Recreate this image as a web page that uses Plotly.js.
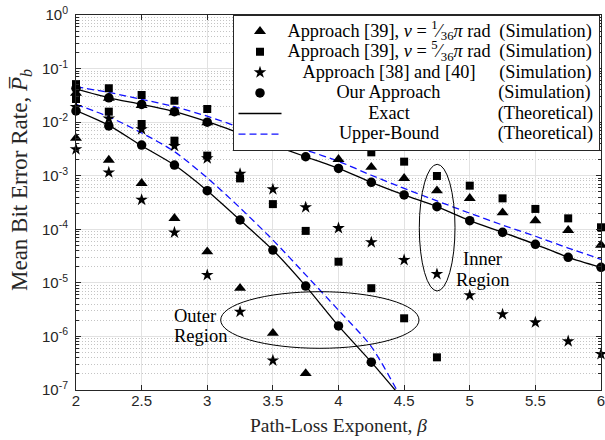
<!DOCTYPE html>
<html>
<head>
<meta charset="utf-8">
<script src="https://cdn.plot.ly/plotly-3.0.1.min.js"></script>
<style>
  html, body { margin: 0; padding: 0; background: #ffffff; }
  #chart { width: 605px; height: 440px; }
</style>
</head>
<body>
<div id="chart"></div>
<script>
// Path-loss exponent grid
const beta = [2, 2.25, 2.5, 2.75, 3, 3.25, 3.5, 3.75, 4, 4.25, 4.5, 4.75, 5, 5.25, 5.5, 5.75, 6];

// Approach [39], v = pi/36 rad (simulation)
const innerTri = [0.0347, 0.0282, 0.0206, 0.0150, 0.00977, 0.00741, 0.00525, 0.00347, 0.00202,
                  0.00144, 0.000893, 0.000525, 0.000378, 0.000204, 0.000145, 0.0000955, 0.0000509];
const outerTri = [0.00501, 0.00196, 0.000721, 0.000160, 0.0000382, 0.00000794, 0.00000115, 2.04e-7];

// Approach [39], v = 5pi/36 rad (simulation)
const innerSq = [0.0513, 0.0429, 0.0321, 0.0251, 0.0176, 0.0120, 0.00832, 0.00562, 0.00359,
                 0.00273, 0.00183, 0.000989, 0.000652, 0.000378, 0.000240, 0.000160, 0.000109];
const outerSq = [0.0270, 0.0157, 0.00923, 0.00451, 0.00237, 0.000891, 0.000295, 0.0000933,
                 0.0000248, 0.00000794, 0.00000218, 4.07e-7];

// Approach [38] and [40] (simulation)
const innerStar = [0.0191, 0.0117, 0.00735, 0.00359, 0.00211, 0.00108, 0.000557, 0.000257, 0.000105,
                   0.0000571, 0.0000267, 0.0000146, 0.00000585, 0.00000259, 0.00000183, 8.13e-7, 4.68e-7];
const outerStar = [0.00311, 0.00115, 0.000355, 0.0000871, 0.0000140, 0.00000288, 3.55e-7];

// Our approach (simulation)
const innerOurs = [0.0427, 0.0285, 0.0214, 0.0157, 0.0100, 0.00617, 0.00359, 0.00226, 0.00137,
                   0.000753, 0.000437, 0.000264, 0.000145, 0.0000877, 0.0000525, 0.0000300, 0.0000195];
const outerOurs = [0.0162, 0.00851, 0.00374, 0.00158, 0.000525, 0.000149, 0.0000410, 0.00000871,
                   0.00000157, 3.31e-7];

// Exact analysis (theoretical)
const innerExact = [0.0412, 0.0285, 0.0214, 0.0157, 0.0102, 0.00617, 0.00372, 0.00226, 0.00137,
                    0.000753, 0.000437, 0.000264, 0.000145, 0.0000877, 0.0000525, 0.0000300, 0.0000195];
const outerExact = [0.0164, 0.00871, 0.00363, 0.00158, 0.000525, 0.000149, 0.0000410, 0.00000871,
                    0.00000157, 3.31e-7, 6.31e-8];

// Upper bound (theoretical)
const innerBound = [0.0457, 0.0359, 0.0266, 0.0195, 0.0129, 0.00794, 0.00479, 0.00302, 0.00186,
                    0.00102, 0.000582, 0.000339, 0.000200, 0.000120, 0.0000741, 0.0000447, 0.0000275];
const outerBound = [0.0214, 0.0126, 0.00631, 0.00282, 0.000912, 0.000251, 0.0000631, 0.0000141,
                    0.00000309, 6.46e-7, 5.62e-8];

// Legend text: description column and type column
const legendLabels = [
  'Approach [39], <i>v</i> = <sup>1</sup>\u2044<sub>36</sub><i>\u03C0</i> rad',
  'Approach [39], <i>v</i> = <sup>5</sup>\u2044<sub>36</sub><i>\u03C0</i> rad',
  'Approach [38] and [40]',
  'Our Approach',
  'Exact',
  'Upper-Bound'
];
const legendTags = ['(Simulation)', '(Simulation)', '(Simulation)', '(Simulation)',
                    '(Theoretical)', '(Theoretical)'];

// Axis ticks and labels
const betaTicks = [2, 2.5, 3, 3.5, 4, 4.5, 5, 5.5, 6];
const betaTickText = ['2', '2.5', '3', '3.5', '4', '4.5', '5', '5.5', '6'];
const decadeVals = [1e-7, 1e-6, 1e-5, 1e-4, 1e-3, 1e-2, 1e-1, 1];
const decadeText = ['10<sup>-7</sup>', '10<sup>-6</sup>', '10<sup>-5</sup>', '10<sup>-4</sup>',
                    '10<sup>-3</sup>', '10<sup>-2</sup>', '10<sup>-1</sup>', '10<sup>0</sup>'];
const yTitle = 'Mean Bit Error Rate, <i>P\u0305</i><sub><i>b</i></sub>';
const xTitle = 'Path-Loss Exponent, <i>\u03B2</i>';

// ---------- layout helpers ----------
const W = 605, H = 440;
const M = { l: 76, r: 4, t: 15, b: 50 };
const PW = W - M.l - M.r, PH = H - M.t - M.b;
const px2x = p => (p - M.l) / PW;
const px2y = p => (H - M.b - p) / PH;

const SERIF = '"Liberation Serif", "Times New Roman", serif';
const SANS = '"Liberation Sans", Arial, sans-serif';
const INK = '#262626';
const LEG_PX = 18.3;          // size of legend lettering
const LEG_LEFT = 232.5;       // legend box left edge (px)
const ITEM_W = 43;            // legend symbol slot
const TEXT_START = LEG_LEFT + 1 + ITEM_W + 10;
const DESC_CENTER = 389, TAG_CENTER = 545.5;

// measure pseudo-html text the way it will be drawn
const ctx = document.createElement('canvas').getContext('2d');
function textWidth(markup, size) {
  let w = 0, cur = size, italic = false;
  markup.split(/(<[^>]+>)/).forEach(tok => {
    if (!tok) return;
    if (tok[0] === '<') {
      const close = tok[1] === '/';
      const tag = tok.replace(/[<\/>]/g, '').split(' ')[0];
      if (tag === 'i') italic = !close;
      if (tag === 'sup' || tag === 'sub') cur = close ? size : size * 0.7;
      return;
    }
    ctx.font = (italic ? 'italic ' : '') + cur + 'px "Liberation Serif"';
    w += ctx.measureText(tok).width;
  });
  return w;
}
ctx.font = '100px "Liberation Serif"';
const NBSP_EM = ctx.measureText('\u00A0').width / 100 || 0.25;
function gap(width) {
  if (width <= 0.3) return '';
  const unit = NBSP_EM * LEG_PX;
  const n = Math.floor(width / unit);
  const rest = width - n * unit;
  let s = '\u00A0'.repeat(n);
  if (rest > 0.3) s += '<span style="font-size:' + (rest / NBSP_EM).toFixed(2) + 'px">\u00A0</span>';
  return s;
}
function legendText(i) {
  const dw = textWidth(legendLabels[i], LEG_PX);
  const tw = textWidth(legendTags[i], LEG_PX);
  const lead = Math.max(0, DESC_CENTER - TEXT_START - dw / 2);
  const mid = Math.max(LEG_PX * 0.3, TAG_CENTER - TEXT_START - tw / 2 - lead - dw);
  return '<span style="font-size:' + LEG_PX + 'px">' + gap(lead) + legendLabels[i] + gap(mid) +
         legendTags[i] + '</span>';
}

// join inner and outer branches into one trace, broken by a gap
function joined(a, b) {
  return {
    x: beta.slice(0, a.length).concat([null], beta.slice(0, b.length)),
    y: a.concat([null], b)
  };
}

function markerTrace(i, a, b, symbol, size) {
  const d = joined(a, b);
  return {
    type: 'scatter', mode: 'markers', x: d.x, y: d.y, name: legendText(i),
    cliponaxis: false,
    marker: { symbol: symbol, size: size, color: '#000000', line: { width: 0 } },
    hoverinfo: 'x+y'
  };
}
function lineTrace(i, a, b, color, dash) {
  const d = joined(a, b);
  return {
    type: 'scatter', mode: 'lines', x: d.x, y: d.y, name: legendText(i),
    connectgaps: false,
    line: { color: color, width: 1.3, dash: dash, shape: 'spline', smoothing: 0.7 },
    hoverinfo: 'x+y'
  };
}

const traces = [
  markerTrace(0, innerTri, outerTri, 'triangle-up', 10.5),
  markerTrace(1, innerSq, outerSq, 'square', 8),
  markerTrace(2, innerStar, outerStar, 'star', 9.5),
  markerTrace(3, innerOurs, outerOurs, 'circle', 9.5),
  lineTrace(4, innerExact, outerExact, '#000000', 'solid'),
  lineTrace(5, innerBound, outerBound, '#1010ff', '7px,4px')
];
// draw lines beneath the markers while keeping legend order
const drawOrder = [traces[4], traces[5], traces[0], traces[1], traces[2], traces[3]];
drawOrder.forEach((t, k) => { t.legendrank = [5, 6, 1, 2, 3, 4][k]; });

const minorVals = [];
for (let e = -7; e < 0; e++) for (let k = 2; k <= 9; k++) minorVals.push(k * Math.pow(10, e));

const regionFont = { family: SERIF, size: 18.5, color: '#000000' };

const layout = {
  width: W, height: H,
  margin: M,
  paper_bgcolor: '#ffffff', plot_bgcolor: '#ffffff',
  showlegend: true,
  xaxis: {
    range: [2, 6], tickmode: 'array', tickvals: betaTicks, ticktext: betaTickText,
    ticks: 'inside', ticklen: 5, tickcolor: INK, tickwidth: 1,
    showline: true, linecolor: INK, linewidth: 1, mirror: 'ticks',
    showgrid: true, gridcolor: '#e2e2e2', gridwidth: 1, zeroline: false,
    tickfont: { family: SANS, size: 15, color: INK },
    ticklabelstandoff: -3, ticklabeloverflow: 'allow',
    title: { text: xTitle, font: { family: SERIF, size: 19.5, color: INK }, standoff: 10 }
  },
  yaxis: {
    type: 'log', range: [-7, 0],
    tickmode: 'array', tickvals: decadeVals, ticktext: decadeText,
    ticks: 'inside', ticklen: 5, tickcolor: INK, tickwidth: 1,
    showline: true, linecolor: INK, linewidth: 1, mirror: 'ticks',
    showgrid: true, gridcolor: '#e2e2e2', gridwidth: 1, zeroline: false,
    minor: {
      tickmode: 'array', tickvals: minorVals, ticks: 'inside', ticklen: 3, tickcolor: INK,
      showgrid: true, gridcolor: '#c4c4c4', griddash: '1px,2px', gridwidth: 1
    },
    tickfont: { family: SANS, size: 15, color: INK },
    ticklabelstandoff: 4, ticklabeloverflow: 'allow'
  },
  legend: {
    x: px2x(LEG_LEFT), xanchor: 'left', y: 1, yanchor: 'top',
    bgcolor: '#ffffff', bordercolor: INK, borderwidth: 1,
    font: { family: SERIF, size: 13.5, color: '#000000' },
    itemwidth: ITEM_W, tracegroupgap: 0, traceorder: 'normal',
    itemclick: false, itemdoubleclick: false
  },
  shapes: [
    { type: 'circle', xref: 'paper', yref: 'paper', layer: 'above',
      x0: px2x(220.7), x1: px2x(419), y0: px2y(348.3), y1: px2y(291.7),
      line: { color: '#000000', width: 1 } },
    { type: 'circle', xref: 'paper', yref: 'paper', layer: 'above',
      x0: px2x(419.3), x1: px2x(455), y0: px2y(291), y1: px2y(164.3),
      line: { color: '#000000', width: 1 } }
  ],
  annotations: [
    { text: yTitle, xref: 'paper', yref: 'paper', x: px2x(21), y: px2y(180), textangle: -90,
      xanchor: 'center', yanchor: 'middle', showarrow: false,
      font: { family: SERIF, size: 23, color: INK } },
    { text: 'Outer', xref: 'paper', yref: 'paper', x: px2x(171.7), y: px2y(316), xanchor: 'left', yanchor: 'middle', showarrow: false, font: regionFont },
    { text: 'Region', xref: 'paper', yref: 'paper', x: px2x(171.7), y: px2y(336.3), xanchor: 'left', yanchor: 'middle', showarrow: false, font: regionFont },
    { text: 'Inner', xref: 'paper', yref: 'paper', x: px2x(482), y: px2y(259), xanchor: 'center', yanchor: 'middle', showarrow: false, font: regionFont },
    { text: 'Region', xref: 'paper', yref: 'paper', x: px2x(482), y: px2y(279.5), xanchor: 'center', yanchor: 'middle', showarrow: false, font: regionFont }
  ]
};

Plotly.newPlot('chart', drawOrder, layout, { displayModeBar: false, staticPlot: true });
</script>
</body>
</html>
